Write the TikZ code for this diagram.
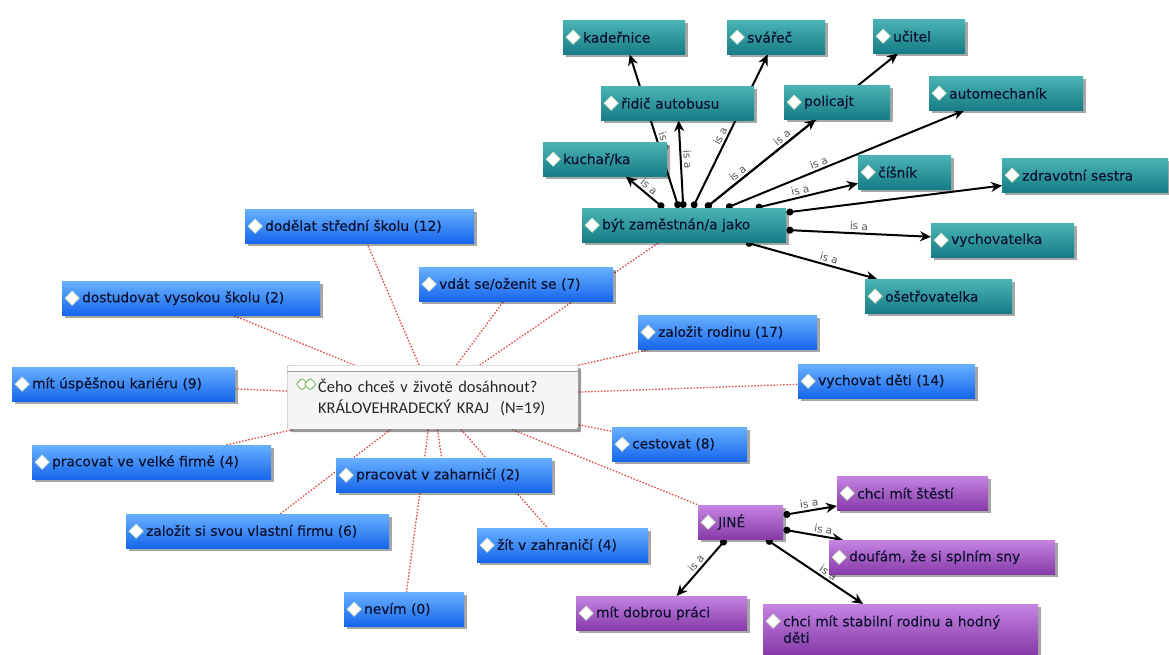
\documentclass[tikz,border=0pt]{standalone}
\usepackage{fontspec}
\setmainfont{DejaVu Sans}
\newfontfamily\boxfont{DejaVu Sans}[FakeBold=0.35]
\newfontfamily\titlefont{Carlito}
\usetikzlibrary{arrows.meta,shadows,backgrounds}

\definecolor{blueTop}{RGB}{104,176,255}
\definecolor{blueBot}{RGB}{22,102,236}
\definecolor{tealTop}{RGB}{74,180,180}
\definecolor{tealBot}{RGB}{22,124,134}
\definecolor{purpTop}{RGB}{198,132,226}
\definecolor{purpBot}{RGB}{134,58,168}
\definecolor{boxText}{RGB}{12,18,48}
\definecolor{linkRed}{RGB}{224,70,70}
\definecolor{iconGreen}{RGB}{130,185,100}
\definecolor{labelGray}{RGB}{85,85,85}

\begin{document}
\begin{tikzpicture}[x=1pt,y=-1pt,
    box/.style={anchor=north west,rectangle,inner xsep=20pt,inner ysep=0pt,
      minimum height=34pt,align=left,text=boxText,
      font=\boxfont\fontsize{13.7}{16.5}\selectfont,
      drop shadow={shadow xshift=3pt,shadow yshift=-3pt,opacity=0.35,fill=black},
      path picture={\filldraw[fill=white,draw=iconGreen!35!white,line width=0.8pt]
        ([xshift=10pt,yshift=-17pt]path picture bounding box.north west)
        +(-7,0) -- +(0,-7) -- +(7,0) -- +(0,7) -- cycle;}},
    goalbox/.style={box,top color=blueTop,bottom color=blueBot},
    jobbox/.style={box,top color=tealTop,bottom color=tealBot},
    otherbox/.style={box,top color=purpTop,bottom color=purpBot},
    link/.style={linkRed,line width=1.3pt,dash pattern=on 1.5pt off 1.7pt},
    isa/.style={{Circle[length=7pt]}-{Stealth[length=11pt,width=10pt]},line width=2pt},
    islabel/.style={sloped,font=\fontsize{10.5}{11}\selectfont,text=labelGray,inner sep=2pt}]
  \useasboundingbox (0,0) rectangle (1169,655);

  \node[anchor=north west,minimum width=291pt,minimum height=64pt,inner xsep=10pt,
    text width=271pt,align=left,draw=gray!75,fill=gray!8,rounded corners=2pt,
    font=\titlefont\fontsize{16.4}{21.5}\selectfont,text=black!85,
    drop shadow={shadow xshift=3pt,shadow yshift=-3pt,opacity=0.4,fill=black},
    path picture={
      \fill[white] (path picture bounding box.north west) rectangle
        ([yshift=-6pt]path picture bounding box.north east);
      \draw[gray!75] ([yshift=-6pt]path picture bounding box.north west) --
        ([yshift=-6pt]path picture bounding box.north east);
      \foreach \dx in {15,23}
        \filldraw[fill=white,draw=iconGreen,line width=1pt]
          ([xshift=\dx pt,yshift=-19pt]path picture bounding box.north west)
          +(-6,0) -- +(0,-6) -- +(6,0) -- +(0,6) -- cycle;}]
    (otazka) at (287,365) {\hspace*{21pt}Čeho chceš v životě dosáhnout?\\
      \hspace*{21pt}KRÁLOVEHRADECKÝ KRAJ~~(N=19)};

  \node[goalbox,text width=189pt] (skola) at (245,209) {dodělat střední školu (12)};
  \node[goalbox,text width=218pt] (vysoka) at (62,281) {dostudovat vysokou školu (2)};
  \node[goalbox,text width=154pt] (vdat) at (419,267) {vdát se/oženit se (7)};
  \node[goalbox,text width=183pt] (kariera) at (12,367) {mít úspěšnou kariéru (9)};
  \node[goalbox,text width=199pt] (velka) at (32,445) {pracovat ve velké firmě (4)};
  \node[goalbox,text width=176pt] (prac) at (336,458) {pracovat v zaharničí (2)};
  \node[goalbox,text width=223pt] (vlastni) at (126,514) {založit si svou vlastní firmu (6)};
  \node[goalbox,text width=80pt] (nevim) at (344,592) {nevím (0)};
  \node[goalbox,text width=131pt] (zit) at (477,528) {žít v zahraničí (4)};
  \node[goalbox,text width=139pt] (rodina) at (638,315) {založit rodinu (17)};
  \node[goalbox,text width=137pt] (deti) at (798,364) {vychovat děti (14)};
  \node[goalbox,text width=95pt] (cestovat) at (612,427) {cestovat (8)};

  \node[jobbox,text width=164pt] (byt) at (582,208) {být zaměstnán/a jako};
  \node[jobbox,text width=82pt] (kadernice) at (563,20) {kadeřnice};
  \node[jobbox,text width=58pt] (svarec) at (727,20) {svářeč};
  \node[jobbox,text width=52pt] (ucitel) at (873,19) {učitel};
  \node[jobbox,text width=113pt] (ridic) at (601,86) {řidič autobusu};
  \node[jobbox,text width=66pt] (policajt) at (784,85) {policajt};
  \node[jobbox,text width=114pt] (automech) at (929,76) {automechaník};
  \node[jobbox,text width=84pt] (kuchar) at (543,142) {kuchař/ka};
  \node[jobbox,text width=53pt] (cisnik) at (858,155) {číšník};
  \node[jobbox,text width=126pt] (sestra) at (1002,158) {zdravotní sestra};
  \node[jobbox,text width=103pt] (vychov) at (931,223) {vychovatelka};
  \node[jobbox,text width=107pt] (osetr) at (865,279) {ošetřovatelka};

  \node[otherbox,text width=45pt] (jine) at (698,505) {JINÉ};
  \node[otherbox,text width=111pt] (stesti) at (837,476) {chci mít štěstí};
  \node[otherbox,text width=186pt] (sny) at (829,540) {doufám, že si splním sny};
  \node[otherbox,text width=131pt] (prace) at (576,596) {mít dobrou práci};
  \node[otherbox,text width=235pt,minimum height=50pt] (stabil) at (763,604)
    {chci mít stabilní rodinu a hodný\\děti};

  \begin{scope}[on background layer]
    \fill[white] (0,0) rectangle (1169,655);
    \foreach \n in {skola,vysoka,vdat,byt,kariera,velka,vlastni,prac,nevim,zit,rodina,deti,cestovat,jine}
      \draw[link] (otazka) -- (\n);

    \draw[isa] (byt) -- node[islabel,above] {is a} (kuchar);
    \draw[isa] (byt) -- node[islabel,above,pos=0.42] {is a} (kadernice);
    \draw[isa] (byt) -- node[islabel,above,pos=0.55] {is a} (ridic);
    \draw[isa] (byt) -- node[islabel,above,pos=0.45] {is a} (svarec);
    \draw[isa] (byt) -- node[islabel,above,pos=0.33] {is a} (policajt);
    \draw[isa] (byt) -- node[islabel,above,pos=0.42] {is a} (ucitel);
    \draw[isa] (byt) -- node[islabel,above,pos=0.4] {is a} (automech);
    \draw[isa] (byt) -- node[islabel,above,pos=0.45] {is a} (cisnik);
    \draw[isa] (byt) -- (sestra);
    \draw[isa] (byt) -- node[islabel,above] {is a} (vychov);
    \draw[isa] (byt) -- node[islabel,above,pos=0.62] {is a} (osetr);

    \draw[isa] (jine) -- node[islabel,above] {is a} (stesti);
    \draw[isa] (jine) -- node[islabel,above,pos=0.65] {is a} (sny);
    \draw[isa] (jine) -- node[islabel,above,pos=0.6] {is a} (stabil);
    \draw[isa] (jine) -- node[islabel,above] {is a} (prace);
  \end{scope}
\end{tikzpicture}
\end{document}
